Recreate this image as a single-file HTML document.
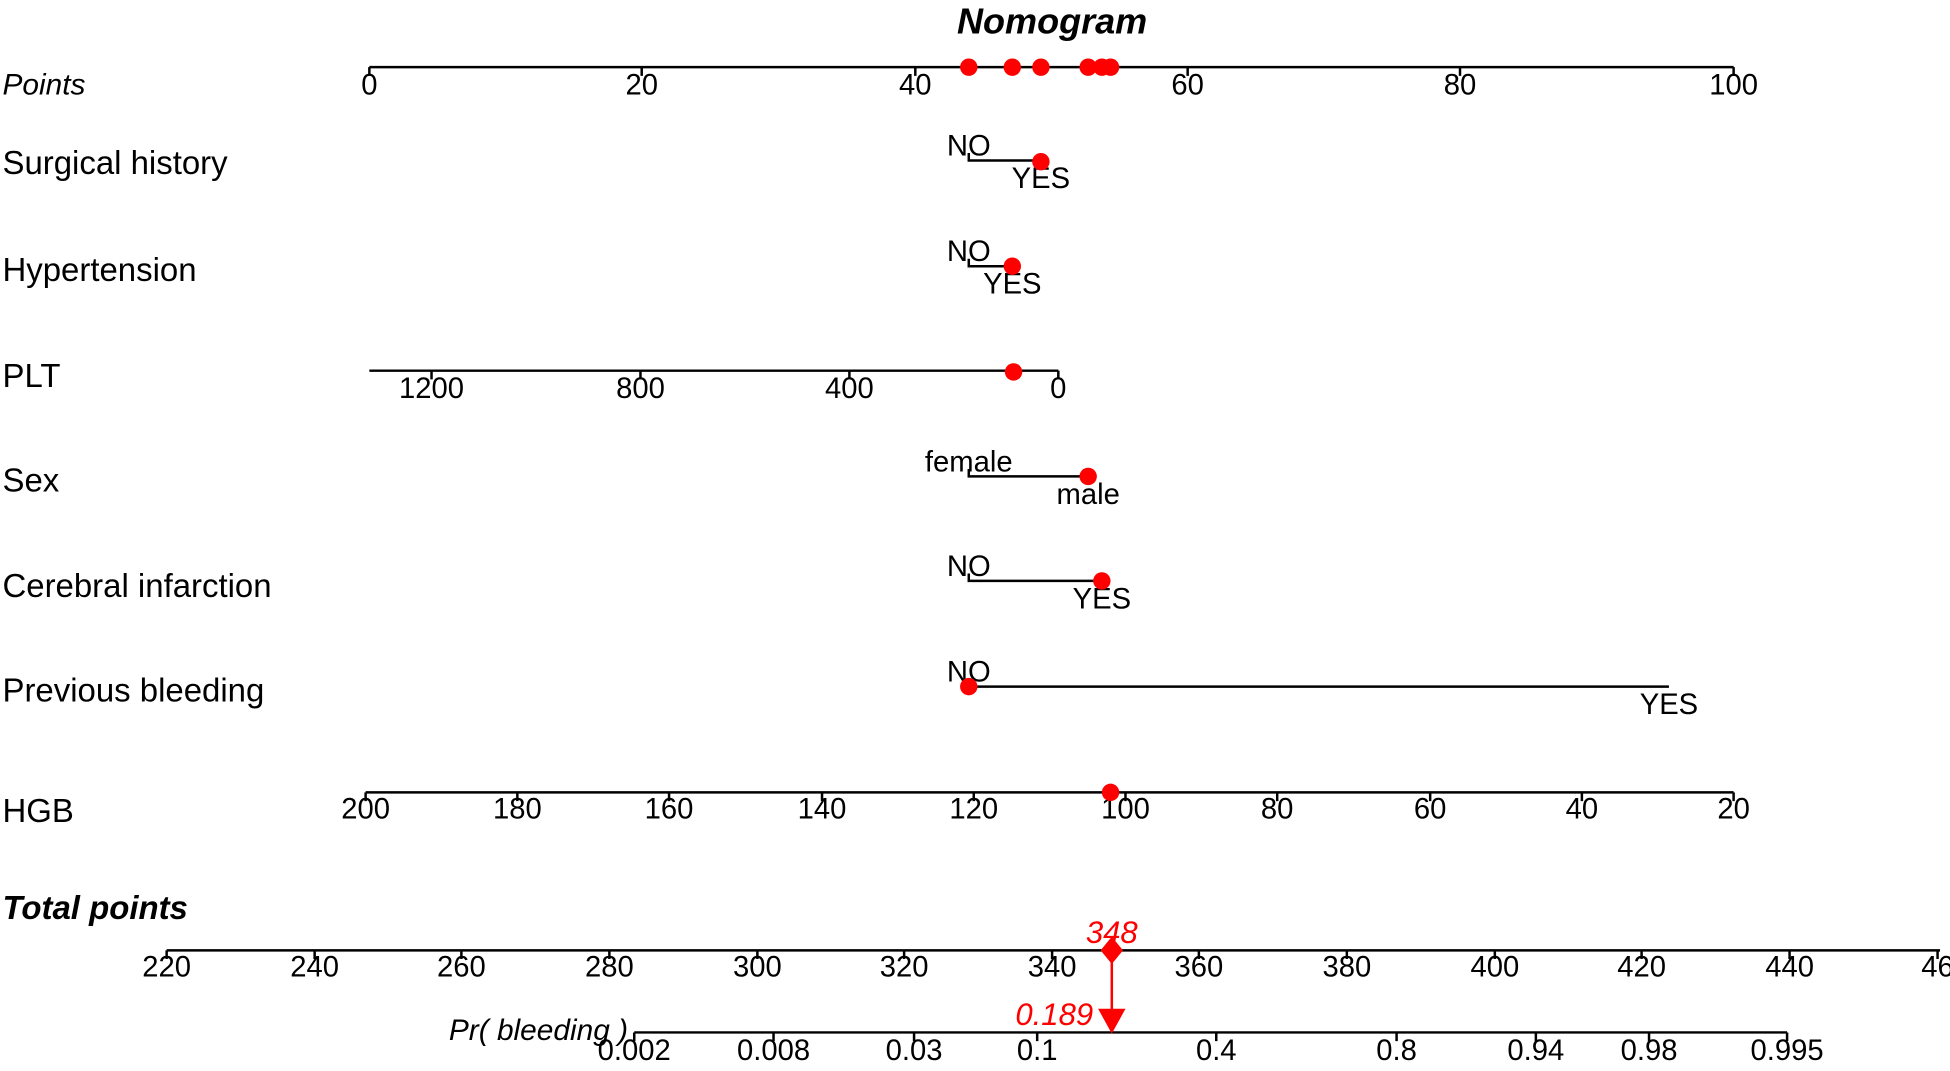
<!DOCTYPE html>
<html><head><meta charset="utf-8"><style>html,body{margin:0;padding:0;background:#fff}svg{display:block}text{font-family:"Liberation Sans",Arial,sans-serif}</style></head>
<body>
<svg width="1950" height="1071" viewBox="0 0 1568 861" preserveAspectRatio="none" xmlns="http://www.w3.org/2000/svg">
<g font-size="23.5" fill="#000">
<text x="846" y="27" text-anchor="middle" font-size="29" font-weight="bold" font-style="italic">Nomogram</text>
<g font-size="26.5">
<text x="2" y="76" font-style="italic" font-size="24">Points</text>
<text x="2" y="140">Surgical history</text>
<text x="2" y="226">Hypertension</text>
<text x="2" y="311">PLT</text>
<text x="2" y="395">Sex</text>
<text x="2" y="480">Cerebral infarction</text>
<text x="2" y="564">Previous bleeding</text>
<text x="2" y="661">HGB</text>
<text x="2" y="739" font-weight="bold" font-style="italic">Total points</text>
</g>
<g stroke="#000" stroke-width="2" fill="none">
<line x1="297" y1="54" x2="1394" y2="54"/>
<path d="M297 54v7M516 54v7M736 54v7M955 54v7M1174 54v7M1394 54v7"/>
<path d="M779 123v6H837"/>
<path d="M779 208v6H814"/>
<line x1="297" y1="298" x2="851" y2="298"/>
<path d="M347 298v7M515 298v7M683 298v7M851 298v7"/>
<path d="M779 377v6H875"/>
<path d="M779 461v6H886"/>
<line x1="779" y1="552" x2="1342" y2="552"/>
<line x1="294" y1="637" x2="1394" y2="637"/>
<path d="M294 637v7M416 637v7M538 637v7M661 637v7M783 637v7M905 637v7M1027 637v7M1150 637v7M1272 637v7M1394 637v7"/>
<line x1="134" y1="764" x2="1560" y2="764"/>
<path d="M134 764v7M253 764v7M371 764v7M490 764v7M609 764v7M727 764v7M846 764v7M964 764v7M1083 764v7M1202 764v7M1320 764v7M1439 764v7M1558 764v7"/>
<line x1="510" y1="830" x2="1437" y2="830"/>
<path d="M510 830v7M622 830v7M735 830v7M834 830v7M978 830v7M1123 830v7M1235 830v7M1326 830v7M1437 830v7"/>
</g>
<g text-anchor="middle">
<text x="297" y="76">0</text><text x="516" y="76">20</text><text x="736" y="76">40</text><text x="955" y="76">60</text><text x="1174" y="76">80</text><text x="1394" y="76">100</text>
<text x="779" y="125">NO</text><text x="837" y="151">YES</text>
<text x="779" y="210">NO</text><text x="814" y="236">YES</text>
<text x="347" y="320">1200</text><text x="515" y="320">800</text><text x="683" y="320">400</text><text x="851" y="320">0</text>
<text x="779" y="379">female</text><text x="875" y="405">male</text>
<text x="779" y="463">NO</text><text x="886" y="489">YES</text>
<text x="779" y="548">NO</text><text x="1342" y="574">YES</text>
<text x="294" y="658">200</text><text x="416" y="658">180</text><text x="538" y="658">160</text><text x="661" y="658">140</text><text x="783" y="658">120</text><text x="905" y="658">100</text><text x="1027" y="658">80</text><text x="1150" y="658">60</text><text x="1272" y="658">40</text><text x="1394" y="658">20</text>
<text x="134" y="785">220</text><text x="253" y="785">240</text><text x="371" y="785">260</text><text x="490" y="785">280</text><text x="609" y="785">300</text><text x="727" y="785">320</text><text x="846" y="785">340</text><text x="964" y="785">360</text><text x="1083" y="785">380</text><text x="1202" y="785">400</text><text x="1320" y="785">420</text><text x="1439" y="785">440</text><text x="1558" y="785">46</text>
<text x="510" y="852">0.002</text><text x="622" y="852">0.008</text><text x="735" y="852">0.03</text><text x="834" y="852">0.1</text><text x="978" y="852">0.4</text><text x="1123" y="852">0.8</text><text x="1235" y="852">0.94</text><text x="1326" y="852">0.98</text><text x="1437" y="852">0.995</text>
</g>
<text x="505" y="836" text-anchor="end" font-style="italic" font-size="24">Pr( bleeding )</text>
<g fill="#f00">
<circle cx="779" cy="54" r="7"/><circle cx="814" cy="54" r="7"/><circle cx="837" cy="54" r="7"/><circle cx="875" cy="54" r="7"/><circle cx="886" cy="54" r="7"/><circle cx="893" cy="54" r="7"/>
<circle cx="837" cy="130" r="7"/><circle cx="814" cy="214" r="7"/><circle cx="815" cy="299" r="7"/><circle cx="875" cy="383" r="7"/><circle cx="886" cy="467" r="7"/><circle cx="779" cy="552" r="7"/><circle cx="893" cy="637" r="7"/>
<path d="M894 753l9 11-9 11-9-11z"/>
<line x1="894" y1="764" x2="894" y2="815" stroke="#f00" stroke-width="2"/>
<path d="M883 811h22l-11 20z"/>
<text x="894" y="758" text-anchor="middle" font-style="italic" font-size="25">348</text>
<text x="879" y="824" text-anchor="end" font-style="italic" font-size="25">0.189</text>
</g>
</g>
</svg>
</body></html>
